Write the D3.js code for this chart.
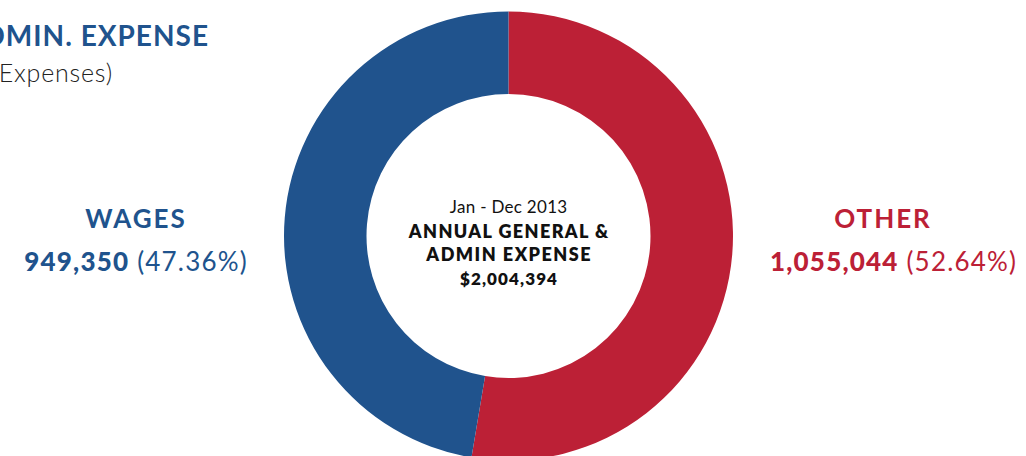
<!DOCTYPE html>
<meta charset="utf-8">
<script src="https://d3js.org/d3.v7.min.js"></script>
<style>
  body { margin: 0; background: #fff; }
  svg { display: block; font-family: Lato, "Open Sans", sans-serif; }
</style>
<div id="chart"></div>
<script>
  // data
  var categories = ["OTHER", "WAGES"];
  var values = [1055044, 949350];
  var colors = ["#bc2036", "#20538d"];
  var period = "Jan - Dec 2013";

  var width = 1026, height = 456;
  var cx = 508.5, cy = 236, outerR = 224.5, innerR = 142;

  var svg = d3.select("#chart").append("svg")
    .attr("width", width)
    .attr("height", height);

  var total = d3.sum(values);
  var fmt = d3.format(",");
  var pct = function (v) { return (v / total * 100).toFixed(2) + "%"; };

  var data = categories.map(function (c, i) { return { name: c, value: values[i], color: colors[i] }; });

  var pie = d3.pie().sort(null).value(function (d) { return d.value; });
  var arc = d3.arc().innerRadius(innerR).outerRadius(outerR);

  var g = svg.append("g").attr("transform", "translate(" + cx + "," + cy + ")");
  g.selectAll("path")
    .data(pie(data))
    .enter()
    .append("path")
    .attr("d", arc)
    .attr("fill", function (d) { return d.data.color; });

  // title (runs off the left edge, as in the original)
  svg.append("text")
    .attr("x", 209).attr("y", 46)
    .attr("text-anchor", "end")
    .attr("fill", "#20538d")
    .style("font-size", "28px").style("font-weight", 700)
    .style("letter-spacing", "1px")
    .text("GENERAL & ADMIN. EXPENSE");

  svg.append("text")
    .attr("x", 113).attr("y", 82)
    .attr("text-anchor", "end")
    .attr("fill", "#222")
    .style("font-size", "25px").style("font-weight", 300)
    .style("letter-spacing", "0.8px")
    .text("(Percentage of Total Expenses)");

  // centre text
  var center = [
    { t: period, y: 213, w: 400, s: 17, ls: 0.3 },
    { t: "ANNUAL GENERAL &", y: 238, w: 800, s: 18, ls: 1.4 },
    { t: "ADMIN EXPENSE", y: 261, w: 800, s: 18, ls: 1.5 },
    { t: "$" + fmt(total), y: 285, w: 800, s: 17, ls: 1.1 }
  ];
  svg.selectAll(".ctr")
    .data(center)
    .enter()
    .append("text")
    .attr("class", "ctr")
    .attr("x", function (d) { return cx + d.ls / 2; })
    .attr("y", function (d) { return d.y; })
    .attr("text-anchor", "middle")
    .attr("fill", "#111")
    .style("font-size", function (d) { return d.s + "px"; })
    .style("font-weight", function (d) { return d.w; })
    .style("letter-spacing", function (d) { return d.ls + "px"; })
    .text(function (d) { return d.t; });

  // side labels
  var labelPos = [
    { nx: 882, vx: 893 },
    { nx: 135, vx: 135.5 }
  ];
  data.forEach(function (d, i) {
    svg.append("text")
      .attr("x", labelPos[i].nx + 1).attr("y", 228)
      .attr("text-anchor", "middle")
      .attr("fill", d.color)
      .style("font-size", "26px").style("font-weight", 700)
      .style("letter-spacing", "2px")
      .text(d.name);

    var t = svg.append("text")
      .attr("x", labelPos[i].vx + 0.6).attr("y", 271)
      .attr("text-anchor", "middle")
      .attr("fill", d.color)
      .style("font-size", "26px")
      .style("letter-spacing", "1.2px");
    t.append("tspan").style("font-weight", 900).text(fmt(d.value));
    t.append("tspan").style("font-weight", 400).text(" (" + pct(d.value) + ")");
  });
</script>
